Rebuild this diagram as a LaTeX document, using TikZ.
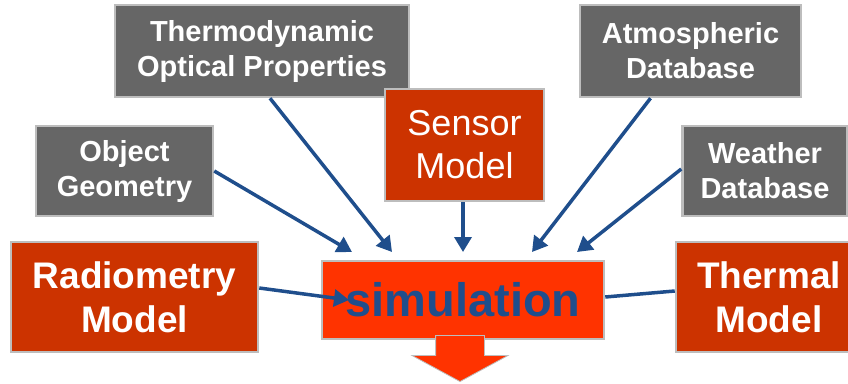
\documentclass[tikz,border=0pt]{standalone}
\usepackage{fontspec}
\setmainfont{Liberation Sans}
\usetikzlibrary{arrows.meta, shapes.arrows}

\definecolor{boxgray}{HTML}{666666}
\definecolor{edgegray}{HTML}{BDBDBD}
\definecolor{brick}{HTML}{CC3300}
\definecolor{flame}{HTML}{FF3300}
\definecolor{linkblue}{HTML}{1F4E8C}

\begin{document}
\begin{tikzpicture}[x=1pt, y=-1pt,
          BOX/.style = {draw=edgegray, line width=2.5pt, inner sep=0pt, align=center, text=white},
           GB/.style = {BOX, fill=boxgray, font=\fontsize{29}{35}\selectfont\bfseries},
           RB/.style = {BOX, fill=brick, font=\fontsize{37}{44}\selectfont\bfseries},
           LN/.style = {draw=linkblue, line width=3.5pt, -{Triangle[length=15pt,width=17pt]}} ]

\clip (0,0) rectangle (848,383);

% the data that goes in
\node (thermo)  [GB, minimum width=294pt, minimum height=92pt] at (262,51)  {Thermodynamic\\Optical Properties};
\node (atmos)   [GB, minimum width=221pt, minimum height=92pt] at (690.5,51) {Atmospheric\\Database};
\node (objgeo)  [GB, minimum width=177pt, minimum height=90pt] at (124.5,171) {Object\\Geometry};
\node (weather) [GB, minimum width=165pt, minimum height=90pt] at (765,171) {Weather\\Database};

% the models
\node (sensor)  [BOX, fill=brick, font=\fontsize{36}{43}\selectfont,
                 minimum width=159pt, minimum height=112pt] at (464.5,145) {Sensor\\Model};
\node (radio)   [RB, minimum width=247pt, minimum height=110pt] at (134.5,297) {Radiometry\\Model};
\node (thermal) [RB, minimum width=186pt, minimum height=110pt] at (769,297) {Thermal\\Model};

\node (sim)     [BOX, fill=flame, text=linkblue, font=\fontsize{47}{50}\selectfont\bfseries,
                 minimum width=282pt, minimum height=78pt] at (463,300) {simulation};

% where the arrows stop
\coordinate (inObj)     at (352,252);
\coordinate (inThermo)  at (392,252);
\coordinate (inSensor)  at (463,252);
\coordinate (inAtmos)   at (532,252);
\coordinate (inWeather) at (577,252);
\coordinate (inRadio)   at (349,300);

\draw[LN] (objgeo.east) -- (inObj);
\draw[LN] ([xshift=8pt]thermo.south) -- (inThermo);
\draw[LN] ([xshift=-1.5pt]sensor.south) -- (inSensor);
\draw[LN] ([xshift=-40pt]atmos.south) -- (inAtmos);
\draw[LN] ([yshift=2pt]weather.west) -- (inWeather);
\draw[LN] ([yshift=9pt]radio.east) -- (inRadio);
\draw[LN, -] ([yshift=3pt]sim.east) -- ([yshift=6pt]thermal.west);

% output
\node (out) [single arrow, fill=flame, draw=edgegray, line width=0.8pt,
             inner xsep=0pt, inner ysep=24pt,
             minimum height=46pt, minimum width=95pt,
             single arrow head extend=23.5pt, single arrow tip angle=123,
             rotate=-90, anchor=tip] at (460,382) {};
\end{tikzpicture}
\end{document}
